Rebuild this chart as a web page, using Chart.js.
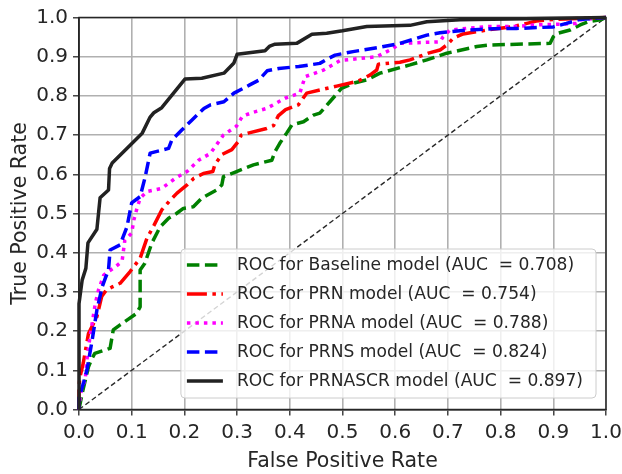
<!DOCTYPE html>
<html>
<head>
<meta charset="utf-8">
<script src="https://cdn.jsdelivr.net/npm/chart.js@4"></script>
<style>
  html, body { margin: 0; padding: 0; background: #fff; }
</style>
</head>
<body>
<canvas id="rocChart" width="622" height="474"></canvas>
<script>
// ROC curves (false positive rate / true positive rate)
const modelNames = ['Baseline', 'PRN', 'PRNA', 'PRNS', 'PRNASCR'];
const aucValues = [0.708, 0.754, 0.788, 0.824, 0.897];
const axisTicks = [0, 0.1, 0.2, 0.3, 0.4, 0.5, 0.6, 0.7, 0.8, 0.9, 1.0];

const fprBaseline = [0, 0.006, 0.012, 0.018, 0.025, 0.03, 0.05, 0.059, 0.065, 0.078, 0.091, 0.109, 0.116, 0.116, 0.125, 0.138, 0.154, 0.17, 0.185, 0.198, 0.217, 0.233, 0.261, 0.271, 0.274, 0.299, 0.331, 0.366, 0.372, 0.381, 0.394, 0.404, 0.426, 0.445, 0.457, 0.476, 0.498, 0.52, 0.546, 0.571, 0.628, 0.66, 0.698, 0.755, 0.78, 0.894, 0.90, 0.906, 0.932, 0.951, 0.966, 0.989, 1.0];
const tprBaseline = [0, 0.041, 0.075, 0.109, 0.131, 0.143, 0.152, 0.156, 0.203, 0.216, 0.228, 0.245, 0.262, 0.356, 0.373, 0.424, 0.466, 0.488, 0.50, 0.513, 0.517, 0.539, 0.56, 0.573, 0.594, 0.607, 0.624, 0.636, 0.658, 0.679, 0.705, 0.726, 0.734, 0.751, 0.756, 0.785, 0.819, 0.832, 0.841, 0.858, 0.879, 0.892, 0.909, 0.926, 0.93, 0.934, 0.951, 0.959, 0.968, 0.981, 0.989, 0.994, 1.0];

const fprPRN = [0, 0, 0.002, 0.008, 0.018, 0.034, 0.043, 0.052, 0.062, 0.078, 0.097, 0.116, 0.129, 0.142, 0.157, 0.173, 0.186, 0.205, 0.218, 0.236, 0.254, 0.258, 0.272, 0.29, 0.302, 0.308, 0.321, 0.356, 0.369, 0.378, 0.392, 0.416, 0.432, 0.489, 0.53, 0.552, 0.565, 0.568, 0.609, 0.628, 0.663, 0.685, 0.698, 0.71, 0.729, 0.774, 0.824, 0.85, 0.868, 0.90, 1.0];
const tprPRN = [0, 0.06, 0.084, 0.118, 0.194, 0.237, 0.288, 0.305, 0.312, 0.322, 0.352, 0.386, 0.437, 0.469, 0.509, 0.534, 0.552, 0.573, 0.59, 0.602, 0.607, 0.626, 0.651, 0.663, 0.683, 0.70, 0.705, 0.717, 0.724, 0.749, 0.765, 0.777, 0.807, 0.825, 0.838, 0.853, 0.866, 0.881, 0.886, 0.892, 0.909, 0.917, 0.93, 0.947, 0.958, 0.968, 0.977, 0.985, 0.991, 0.995, 1.0];

const fprPRNA = [0, 0.003, 0.012, 0.015, 0.021, 0.031, 0.037, 0.047, 0.056, 0.069, 0.078, 0.082, 0.087, 0.10, 0.104, 0.11, 0.116, 0.129, 0.157, 0.183, 0.205, 0.227, 0.249, 0.274, 0.299, 0.31, 0.33, 0.356, 0.391, 0.419, 0.429, 0.464, 0.495, 0.565, 0.596, 0.609, 0.685, 0.691, 0.704, 0.774, 0.824, 0.868, 0.913, 0.944, 0.95, 1.0];
const tprPRNA = [0, 0.042, 0.08, 0.126, 0.186, 0.271, 0.305, 0.343, 0.352, 0.364, 0.374, 0.381, 0.432, 0.45, 0.483, 0.513, 0.539, 0.556, 0.564, 0.59, 0.607, 0.636, 0.653, 0.70, 0.723, 0.748, 0.758, 0.768, 0.794, 0.807, 0.849, 0.866, 0.89, 0.90, 0.921, 0.934, 0.938, 0.951, 0.968, 0.977, 0.977, 0.981, 0.983, 0.985, 0.994, 1.0];

const fprPRNS = [0, 0, 0.009, 0.015, 0.025, 0.034, 0.044, 0.05, 0.056, 0.059, 0.078, 0.091, 0.10, 0.116, 0.125, 0.135, 0.17, 0.176, 0.195, 0.214, 0.237, 0.249, 0.275, 0.294, 0.324, 0.341, 0.357, 0.379, 0.417, 0.457, 0.47, 0.486, 0.52, 0.571, 0.609, 0.66, 0.685, 0.736, 0.80, 0.83, 0.9, 0.925, 0.95, 1.0];
const tprPRNS = [0, 0.03, 0.07, 0.10, 0.177, 0.254, 0.313, 0.335, 0.356, 0.407, 0.42, 0.466, 0.527, 0.543, 0.59, 0.654, 0.666, 0.687, 0.713, 0.738, 0.768, 0.777, 0.785, 0.807, 0.828, 0.84, 0.864, 0.87, 0.875, 0.883, 0.893, 0.904, 0.913, 0.924, 0.934, 0.955, 0.961, 0.968, 0.972, 0.972, 0.976, 0.985, 0.995, 1.0];

const fprPRNASCR = [0, 0, 0.006, 0.013, 0.017, 0.034, 0.04, 0.056, 0.058, 0.063, 0.12, 0.135, 0.142, 0.157, 0.201, 0.233, 0.275, 0.294, 0.30, 0.353, 0.362, 0.372, 0.413, 0.442, 0.47, 0.50, 0.546, 0.628, 0.66, 0.723, 1.0];
const tprPRNASCR = [0, 0.27, 0.33, 0.36, 0.425, 0.46, 0.54, 0.56, 0.615, 0.629, 0.705, 0.746, 0.757, 0.77, 0.843, 0.845, 0.858, 0.884, 0.906, 0.915, 0.927, 0.932, 0.934, 0.957, 0.96, 0.966, 0.977, 0.98, 0.989, 0.994, 1.0];

const chanceLine = [0, 1];

const fprList = [fprBaseline, fprPRN, fprPRNA, fprPRNS, fprPRNASCR];
const tprList = [tprBaseline, tprPRN, tprPRNA, tprPRNS, tprPRNASCR];

// styles
const lineColors = ['#008000', '#ff0000', '#ff00ff', '#0000ff', '#222222'];
const lineDashes = [[12.5, 5.5], [20, 5.5, 3.5, 5.5], [3.5, 5], [12.5, 5.5], []];
const FONT = '"DejaVu Sans", "Liberation Sans", sans-serif';
const TEXT = '#262626';

function toPoints(xs, ys) {
    return xs.map((x, i) => ({ x: x, y: ys[i] }));
}

const datasets = modelNames.map((name, i) => ({
    label: 'ROC for ' + name + ' model (AUC  = ' + aucValues[i].toFixed(3) + ')',
    data: toPoints(fprList[i], tprList[i]),
    borderColor: lineColors[i],
    borderWidth: 3.5,
    borderDash: lineDashes[i],
    borderCapStyle: 'butt',
    borderJoinStyle: 'round',
    order: modelNames.length - i,
    showLine: true,
    pointRadius: 0,
    tension: 0,
    clip: 4
}));

datasets.push({
    label: '',
    data: toPoints(chanceLine, chanceLine),
    borderColor: '#2a2a2a',
    borderWidth: 1.4,
    borderDash: [5, 3],
    order: 10,
    showLine: true,
    pointRadius: 0,
    clip: 2
});

// spines on all four sides + legend box inside the lower right of the plot
const frameAndLegend = {
    id: 'frameAndLegend',
    afterDatasetsDraw(chart) {
        const ctx = chart.ctx, a = chart.chartArea;
        ctx.save();
        ctx.strokeStyle = TEXT;
        ctx.lineWidth = 1.5;
        ctx.strokeRect(a.left, a.top, a.right - a.left, a.bottom - a.top);
        ctx.restore();
    },
    afterDraw(chart) {
        const ctx = chart.ctx, a = chart.chartArea;
        const rows = chart.data.datasets.filter(d => d.label);
        ctx.save();
        ctx.font = '17.1px ' + FONT;
        const textW = Math.max(...rows.map(d => ctx.measureText(d.label).width));
        const padX = 6, handleLen = 36, gap = 14, padR = 13, rowH = 29, padTop = 16;
        const w = padX + handleLen + gap + textW + padR;
        const h = rowH * (rows.length - 1) + padTop * 2 + 1;
        const x0 = a.right - 10 - w;
        const y0 = a.bottom - 11.5 - h;

        ctx.beginPath();
        ctx.roundRect(x0, y0, w, h, 4);
        ctx.fillStyle = 'rgba(255,255,255,0.8)';
        ctx.fill();
        ctx.strokeStyle = '#cccccc';
        ctx.lineWidth = 1;
        ctx.stroke();

        rows.forEach((d, i) => {
            const y = y0 + padTop + i * rowH;
            ctx.beginPath();
            ctx.setLineDash(d.borderDash || []);
            ctx.lineCap = 'butt';
            ctx.strokeStyle = d.borderColor;
            ctx.lineWidth = d.borderWidth;
            ctx.moveTo(x0 + padX, y);
            ctx.lineTo(x0 + padX + handleLen, y);
            ctx.stroke();
            ctx.setLineDash([]);
            ctx.fillStyle = TEXT;
            ctx.textBaseline = 'middle';
            ctx.textAlign = 'left';
            ctx.fillText(d.label, x0 + padX + handleLen + gap, y + 1);
        });
        ctx.restore();
    }
};

function axisOptions(title, fit, titlePad) {
    return {
        type: 'linear',
        min: 0,
        max: 1,
        afterBuildTicks: scale => { scale.ticks = axisTicks.map(v => ({ value: v })); },
        afterFit: fit,
        ticks: {
            callback: v => Number(v).toFixed(1),
            font: { family: FONT, size: 20 },
            color: TEXT,
            padding: 5,
            maxRotation: 0,
            autoSkip: false
        },
        grid: {
            color: '#b0b0b0',
            lineWidth: 1.6,
            tickLength: 6,
            tickColor: TEXT,
            tickWidth: 1.3
        },
        border: { color: TEXT, width: 1.5 },
        title: {
            display: true,
            text: title,
            font: { family: FONT, size: 20.5 },
            color: TEXT,
            padding: { top: titlePad, bottom: 0 }
        }
    };
}

const ctx = document.getElementById('rocChart').getContext('2d');
const rocChart = new Chart(ctx, {
    type: 'scatter',
    data: { datasets: datasets },
    options: {
        responsive: false,
        animation: false,
        devicePixelRatio: 1,
        layout: { padding: { top: 17.5, right: 16, bottom: 0, left: 0 } },
        scales: {
            x: axisOptions('False Positive Rate', s => { s.height = 64.5; s.paddingRight = 16; s.paddingLeft = 0; }, 4),
            y: axisOptions('True Positive Rate', s => { s.width = 79; s.paddingTop = 17.5; s.paddingBottom = 0; }, 8)
        },
        plugins: {
            legend: { display: false },
            tooltip: { enabled: false }
        }
    },
    plugins: [frameAndLegend]
});
</script>
</body>
</html>
